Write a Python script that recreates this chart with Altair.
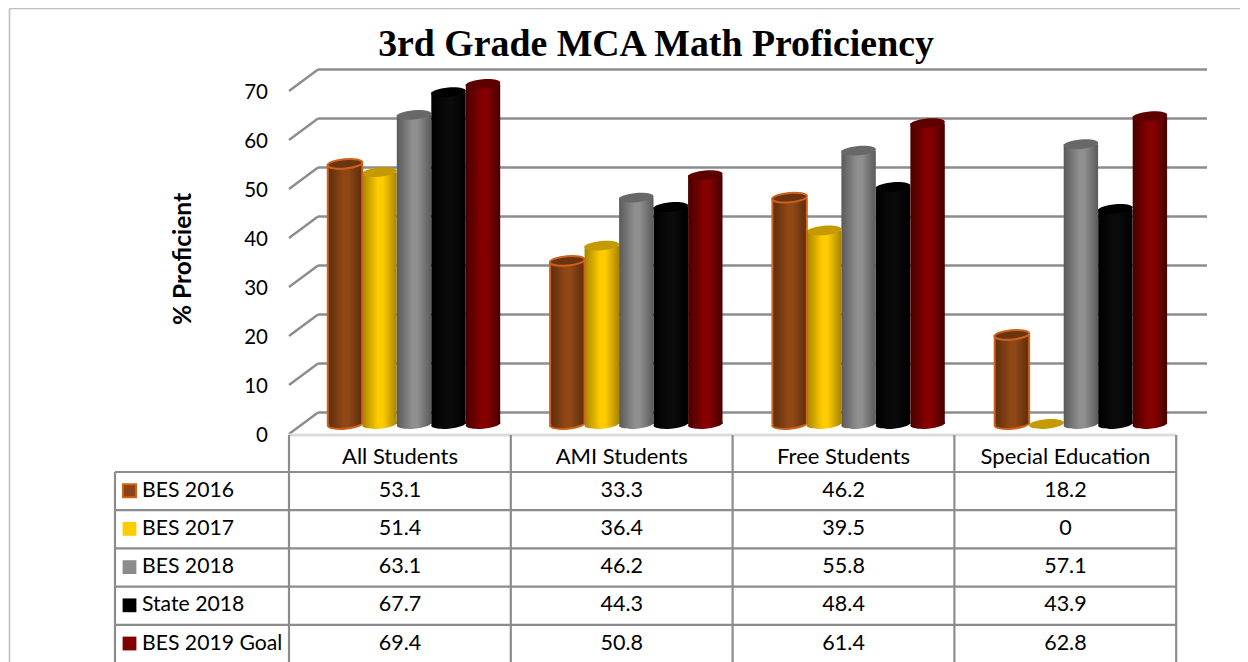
import altair as alt
import pandas as pd

categories = ["All Students", "AMI Students", "Free Students", "Special Education"]
series = ["BES 2016", "BES 2017", "BES 2018", "State 2018", "BES 2019 Goal"]
bes_2016 = [53.1, 33.3, 46.2, 18.2]
bes_2017 = [51.4, 36.4, 39.5, 0]
bes_2018 = [63.1, 46.2, 55.8, 57.1]
state_2018 = [67.7, 44.3, 48.4, 43.9]
goal_2019 = [69.4, 50.8, 61.4, 62.8]
table_labels = [["53.1", "33.3", "46.2", "18.2"], ["51.4", "36.4", "39.5", "0"],
                ["63.1", "46.2", "55.8", "57.1"], ["67.7", "44.3", "48.4", "43.9"],
                ["69.4", "50.8", "61.4", "62.8"]]
values = [bes_2016, bes_2017, bes_2018, state_2018, goal_2019]
y_ticks = [0, 10, 20, 30, 40, 50, 60, 70]

W, H = 1232, 654
PX_PER_UNIT = 4.9
COL = 222.3
TCOL = 221.8 / COL


def tx(px):
    return (px - 414) / COL


def vy(px):
    return (424 - px) / PX_PER_UNIT


def ry(px):
    return (px - 472) / 38.2


X = alt.Scale(domain=[tx(8), tx(8 + W)], range=[0, W], nice=False, zero=False)
YV = alt.Scale(domain=[vy(8 + H), vy(8)], range=[H, 0], nice=False, zero=False)
YR = alt.Scale(domain=[ry(8), ry(8 + H)], range=[0, H], nice=False, zero=False)


def enc_v(**kw):
    out = {}
    for k, f in kw.items():
        if k == "x":
            out[k] = alt.X(f, type="quantitative", scale=X, axis=None)
        elif k == "y":
            out[k] = alt.Y(f, type="quantitative", scale=YV, axis=None)
        elif k == "x2":
            out[k] = alt.X2(f)
        elif k == "y2":
            out[k] = alt.Y2(f)
    return out


def enc_r(**kw):
    out = {}
    for k, f in kw.items():
        if k == "x":
            out[k] = alt.X(f, type="quantitative", scale=X, axis=None)
        elif k == "y":
            out[k] = alt.Y(f, type="quantitative", scale=YR, axis=None)
        elif k == "x2":
            out[k] = alt.X2(f)
        elif k == "y2":
            out[k] = alt.Y2(f)
    return out


layers = []

# frame
frame = pd.DataFrame({"x": [tx(9.5), tx(9.5)], "x2": [tx(9.5), tx(1240)], "y": [vy(8.5), vy(8.5)], "y2": [vy(662), vy(8.5)]})
layers.append(alt.Chart(frame).mark_rule(color="#bfbfbf", strokeWidth=1.6).encode(**enc_v(x="x", x2="x2", y="y", y2="y2")))

# back wall gridlines and side-wall diagonals
BACK_LIFT = vy(412.5)
FRONT_DROP = vy(434)
grid = pd.DataFrame({"v": y_ticks})
grid["back"] = grid.v + BACK_LIFT
grid["front"] = grid.v + FRONT_DROP
grid["xl"] = tx(318)
grid["xr"] = tx(1207)
grid["xf"] = tx(289)
layers.append(alt.Chart(grid).mark_rule(color="#8c8c8c", strokeWidth=2.4).encode(**enc_v(x="xl", x2="xr", y="back", y2="back")))
layers.append(alt.Chart(grid).mark_rule(color="#8c8c8c", strokeWidth=2.4).encode(**enc_v(x="xl", x2="xf", y="back", y2="front")))

# y tick labels and titles
ticks = pd.DataFrame({"v": y_ticks, "t": [str(v) for v in y_ticks]})
ticks["y"] = ticks.v + vy(436)
ticks["x"] = tx(268)
layers.append(alt.Chart(ticks).mark_text(font="Lato", fontSize=20.5, align="right", baseline="middle", color="#000").encode(
    text="t:N", **enc_v(x="x", y="y")))
layers.append(alt.Chart(pd.DataFrame({"x": [tx(184)], "y": [vy(259)], "t": ["% Proficient"]})).mark_text(
    font="Lato", fontSize=24.5, fontWeight="bold", angle=270, align="center", baseline="middle", color="#000").encode(
    text="t:N", **enc_v(x="x", y="y")))
layers.append(alt.Chart(pd.DataFrame({"x": [tx(656)], "y": [vy(45)], "t": ["3rd Grade MCA Math Proficiency"]})).mark_text(
    font="Liberation Serif", fontSize=37.8, fontWeight="bold", align="center", baseline="middle", color="#000").encode(
    text="t:N", **enc_v(x="x", y="y")))

# cylinders
ELLIPSE = "M-1,0A1,0.27 0 1,1 1,0A1,0.27 0 1,1 -1,0Z"
SIZE = 34.8 ** 2
TILT = 355
HALF = 17.2 / COL
STEP = 34.5 / COL
styles = {
    "BES 2016": ("#5c2d0b", "#8f4716", "#6a3410", "#d0611a"),
    "BES 2017": ("#a88400", "#ffcc00", "#c49a00", None),
    "BES 2018": ("#5a5a5a", "#8f8f8f", "#686868", None),
    "State 2018": ("#000000", "#0a0a0a", "#000000", None),
    "BES 2019 Goal": ("#470000", "#860000", "#5e0000", None),
}


def grad(edge, mid):
    return alt.LinearGradient(gradient="linear", x1=0, x2=1, y1=0, y2=0, stops=[
        alt.GradientStop(color=edge, offset=0), alt.GradientStop(color=mid, offset=0.45),
        alt.GradientStop(color=mid, offset=0.6), alt.GradientStop(color=edge, offset=1)])


for idx in [1, 0, 2, 3, 4]:
    name = series[idx]
    edge, mid, top, stroke = styles[name]
    d = pd.DataFrame({"c": range(4), "v": values[idx]})
    d["x"] = d.c + (idx - 2) * STEP
    d["x0"] = d.x - HALF
    d["x1"] = d.x + HALF
    d["zero"] = 0.0
    extra = {"stroke": stroke, "strokeWidth": 2} if stroke else {}
    solid = d[d.v > 0]
    layers.append(alt.Chart(solid).mark_point(shape=ELLIPSE, size=SIZE, angle=TILT, filled=True, fill=grad(edge, mid), opacity=1, **extra).encode(
        **enc_v(x="x", y="zero")))
    layers.append(alt.Chart(solid).mark_rect(fill=grad(edge, mid)).encode(**enc_v(x="x0", x2="x1", y="v", y2="zero")))
    if stroke:
        layers.append(alt.Chart(solid).mark_rule(color=stroke, strokeWidth=2).encode(**enc_v(x="x0", y="v", y2="zero")))
        layers.append(alt.Chart(solid).mark_rule(color=stroke, strokeWidth=2).encode(**enc_v(x="x1", y="v", y2="zero")))
    layers.append(alt.Chart(d).mark_point(shape=ELLIPSE, size=SIZE, angle=TILT, filled=True, fill=top, opacity=1, **extra).encode(
        **enc_v(x="x", y="v")))

# data table
nrows = len(series)
floor = pd.DataFrame({"x": [tx(289)], "x2": [tx(1176)], "y": [ry(435)]})
layers.append(alt.Chart(floor).mark_rule(color="#dcdcdc", strokeWidth=3).encode(**enc_r(x="x", x2="x2", y="y")))
hl = pd.DataFrame({"r": list(range(nrows + 1))})
hl["x"] = tx(115)
hl["x2"] = tx(1176)
layers.append(alt.Chart(hl).mark_rule(color="#8c8c8c", strokeWidth=2.2).encode(**enc_r(x="x", x2="x2", y="r")))
vl = pd.DataFrame({"c": list(range(5))})
vl["x"] = tx(289) + vl.c * TCOL
vl["top"] = ry(435)
vl["bot"] = ry(662)
layers.append(alt.Chart(vl).mark_rule(color="#8c8c8c", strokeWidth=2.2).encode(**enc_r(x="x", y="top", y2="bot")))
ledge = pd.DataFrame({"x": [tx(115)], "top": [0.0], "bot": [ry(662)]})
layers.append(alt.Chart(ledge).mark_rule(color="#8c8c8c", strokeWidth=2.2).encode(**enc_r(x="x", y="top", y2="bot")))

COL0 = tx(400)
hdr = pd.DataFrame({"t": categories, "c": range(4)})
hdr["x"] = COL0 + hdr.c * TCOL
hdr["r"] = -0.38
layers.append(alt.Chart(hdr).mark_text(font="Lato", fontSize=22, align="center", baseline="middle", color="#000").encode(
    text="t:N", **enc_r(x="x", y="r")))

cells = pd.DataFrame([{"t": table_labels[i][c], "x": COL0 + c * TCOL, "r": i + 0.49} for i in range(nrows) for c in range(4)])
layers.append(alt.Chart(cells).mark_text(font="Lato", fontSize=21.5, align="center", baseline="middle", color="#000").encode(
    text="t:N", **enc_r(x="x", y="r")))

leg = pd.DataFrame({"t": series, "r": [i + 0.49 for i in range(nrows)]})
leg["x"] = tx(142)
leg["xs"] = tx(129.5)
layers.append(alt.Chart(leg).mark_text(font="Lato", fontSize=21.2, align="left", baseline="middle", color="#000").encode(
    text="t:N", **enc_r(x="x", y="r")))
swatch_fill = ["#8a4216", "#ffcc00", "#8c8c8c", "#000000", "#7f0000"]
for i in range(nrows):
    extra = {"stroke": "#d0611a", "strokeWidth": 2} if i == 0 else {}
    layers.append(alt.Chart(leg.iloc[[i]]).mark_square(size=190 if i else 170, fill=swatch_fill[i], opacity=1, **extra).encode(
        **enc_r(x="xs", y="r")))

chart = alt.layer(*layers).resolve_scale(x="shared", y="independent").properties(
    width=W, height=H, padding=0, background="white", autosize=alt.AutoSizeParams(type="none")
).configure_view(stroke=None)

chart.save("out.html", embed_options={"renderer": "svg", "actions": False})
